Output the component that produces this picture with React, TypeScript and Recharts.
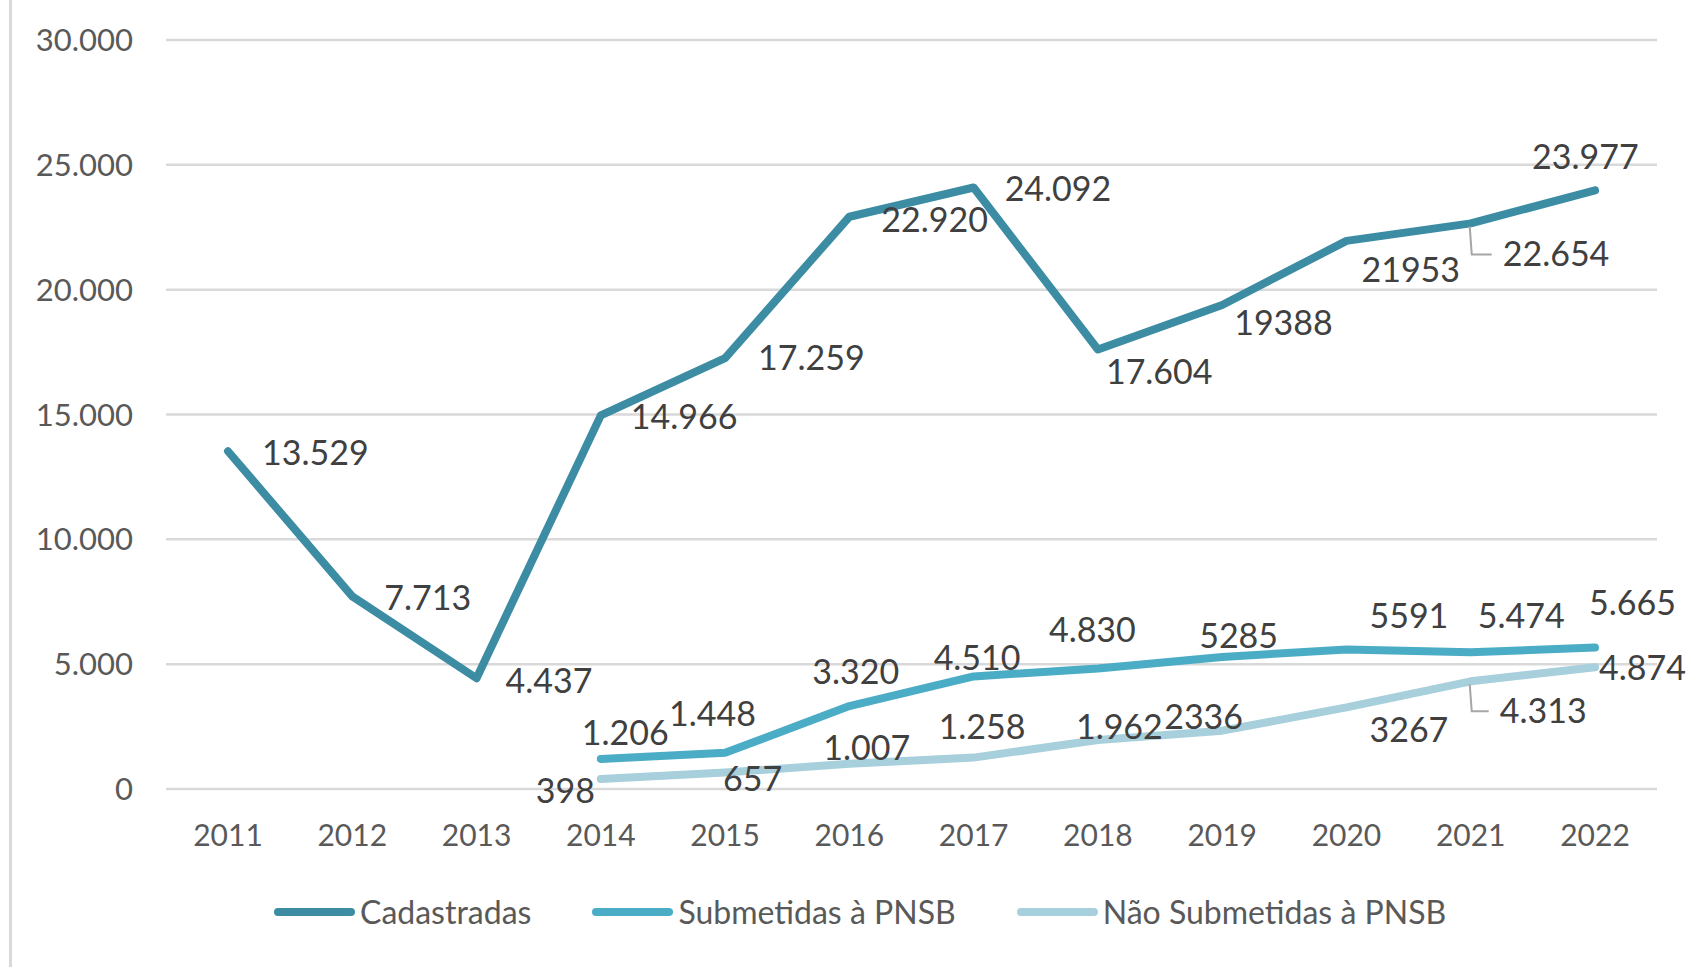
import React from 'react';
import { LineChart, Line, XAxis, YAxis, CartesianGrid, Legend, LabelList } from 'recharts';

const YEARS = ['2011', '2012', '2013', '2014', '2015', '2016', '2017', '2018', '2019', '2020', '2021', '2022'];
const CADASTRADAS = [13529, 7713, 4437, 14966, 17259, 22920, 24092, 17604, 19388, 21953, 22654, 23977];
const SUBMETIDAS = [null, null, null, 1206, 1448, 3320, 4510, 4830, 5285, 5591, 5474, 5665];
const NAO_SUBMETIDAS = [null, null, null, 398, 657, 1007, 1258, 1962, 2336, 3267, 4313, 4874];

// label texts as printed in the source (some without thousands separator)
const CAD_LABELS = ['13.529', '7.713', '4.437', '14.966', '17.259', '22.920', '24.092', '17.604', '19388', '21953', '22.654', '23.977'];
const SUB_LABELS = [null, null, null, '1.206', '1.448', '3.320', '4.510', '4.830', '5285', '5591', '5.474', '5.665'];
const NAO_LABELS = [null, null, null, '398', '657', '1.007', '1.258', '1.962', '2336', '3267', '4.313', '4.874'];

const SERIES_NAMES = ['Cadastradas', 'Submetidas à PNSB', 'Não Submetidas à PNSB'];

const Y_TICKS = [0, 5000, 10000, 15000, 20000, 25000, 30000];

const C_CAD = '#3C8CA3';
const C_SUB = '#4BACC6';
const C_NAO = '#A7CFDC';

// label placement: [dx, dy, leader] from the point to the label's left edge / middle
const CAD_POS: any[] = [[34, 2], [32, 2], [29, 3], [30, 2], [33, 0], [32, 3], [31, 1], [8, 23], [12, 18], [15, 29], [32, 31, true], [-63, -33]];
const SUB_POS: any[] = [null, null, null, [-19, -26], [-56, -39], [-37, -34], [-40, -18], [-49, -38], [-23, -21], [23, -33], [7, -36], [-6, -45]];
const NAO_POS: any[] = [null, null, null, [-65, 12], [-2, 6], [-26, -16], [-35, -31], [-22, -13], [-58, -14], [23, 23], [29, 30, true], [4, 1]];

const data = YEARS.map((year, i) => ({
  year,
  cad: CADASTRADAS[i],
  sub: SUBMETIDAS[i],
  nao: NAO_SUBMETIDAS[i],
}));

const fmt = (v: number) => String(v).replace(/\B(?=(\d{3})+(?!\d))/g, '.');

const makeLabel = (texts: (string | null)[], pos: any[], values: (number | null)[]) => (props: any) => {
  const idx = props.index ?? values.indexOf(props.value);
  const x = props.x ?? props.viewBox?.x;
  const y = props.y ?? props.viewBox?.y;
  const text = texts[idx];
  const p = pos[idx];
  if (text == null || p == null || x == null || y == null) return null;
  const [dx, dy, leader] = p;
  return (
    <g>
      {leader ? (
        <polyline
          points={`${x - 1},${y + 3} ${x + 1},${y + dy} ${x + dx - 11},${y + dy}`}
          fill="none"
          stroke="#A6A6A6"
          strokeWidth={2}
        />
      ) : null}
      <text x={x + dx} y={y + dy + 12} fontSize={34} fill="#404040">
        {text}
      </text>
    </g>
  );
};

const renderLegend = (props: any) => {
  // keep the series order of the source, not alphabetical
  const items = [...(props.payload || [])].sort(
    (a: any, b: any) => SERIES_NAMES.indexOf(a.value) - SERIES_NAMES.indexOf(b.value)
  );
  return (
    <div style={{ display: 'flex', alignItems: 'center', height: 60, paddingLeft: 274, boxSizing: 'border-box' }}>
      {items.map((item: any) => (
        <div key={item.value} style={{ display: 'flex', alignItems: 'center', marginRight: 61 }}>
          <svg width={81} height={12}>
            <line x1={4} y1={6} x2={77} y2={6} stroke={item.color} strokeWidth={8} strokeLinecap="round" />
          </svg>
          <span style={{ marginLeft: 5, fontSize: 32, color: '#595959', lineHeight: 1 }}>{item.value}</span>
        </div>
      ))}
    </div>
  );
};

const App = () => {
  return (
    <div
      style={{
        position: 'absolute',
        left: 0,
        top: 0,
        width: 1686,
        height: 967,
        background: '#fff',
        fontFamily: 'Lato, "Open Sans", sans-serif',
      }}
    >
      <div style={{ position: 'absolute', left: 9, top: 0, width: 3, height: 967, background: '#D9D9D9' }} />
      <LineChart width={1686} height={967} data={data} margin={{ top: 40, right: 29, left: 0, bottom: 25 }}>
        <CartesianGrid vertical={false} stroke="#D9D9D9" strokeWidth={2.5} />
        <XAxis
          dataKey="year"
          interval={0}
          padding={{ left: 62, right: 62 }}
          axisLine={false}
          tickLine={false}
          tickSize={0}
          tickMargin={36}
          height={93}
          tick={{ fill: '#595959', fontSize: 30 }}
        />
        <YAxis
          domain={[0, 30000]}
          ticks={Y_TICKS}
          width={166}
          axisLine={false}
          tickLine={false}
          tickSize={0}
          tickMargin={33}
          tickFormatter={fmt}
          tick={{ fill: '#595959', fontSize: 31 }}
        />
        <Legend verticalAlign="bottom" content={renderLegend} wrapperStyle={{ left: 0, width: 1686 }} />
        <Line
          name={SERIES_NAMES[0]}
          dataKey="cad"
          stroke={C_CAD}
          strokeWidth={8}
          strokeLinecap="round"
          strokeLinejoin="round"
          dot={false}
          activeDot={false}
          isAnimationActive={false}
        >
          <LabelList dataKey="cad" content={makeLabel(CAD_LABELS, CAD_POS, CADASTRADAS)} />
        </Line>
        <Line
          name={SERIES_NAMES[1]}
          dataKey="sub"
          stroke={C_SUB}
          strokeWidth={8}
          strokeLinecap="round"
          strokeLinejoin="round"
          dot={false}
          activeDot={false}
          isAnimationActive={false}
        >
          <LabelList dataKey="sub" content={makeLabel(SUB_LABELS, SUB_POS, SUBMETIDAS)} />
        </Line>
        <Line
          name={SERIES_NAMES[2]}
          dataKey="nao"
          stroke={C_NAO}
          strokeWidth={8}
          strokeLinecap="round"
          strokeLinejoin="round"
          dot={false}
          activeDot={false}
          isAnimationActive={false}
        >
          <LabelList dataKey="nao" content={makeLabel(NAO_LABELS, NAO_POS, NAO_SUBMETIDAS)} />
        </Line>
      </LineChart>
    </div>
  );
};

export default App;
